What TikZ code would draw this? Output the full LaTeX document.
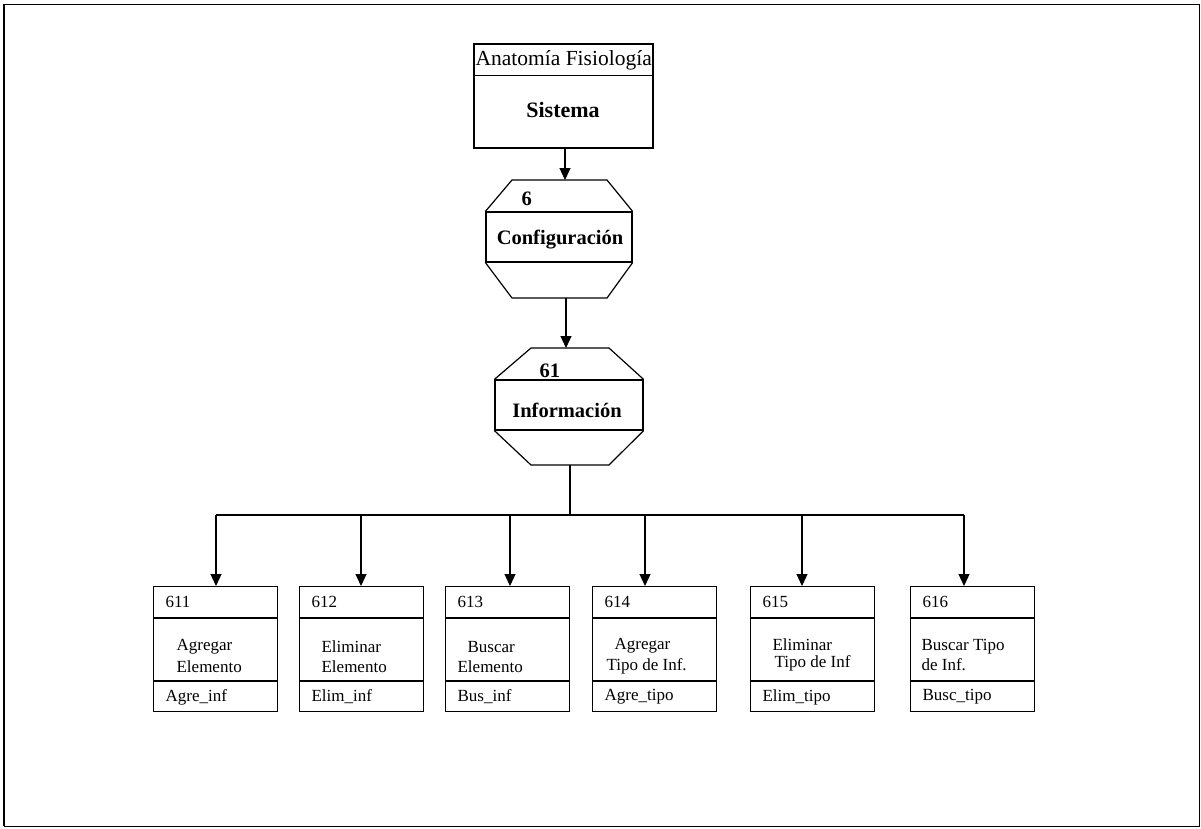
\documentclass[tikz,border=0pt]{standalone}
\usepackage{fontspec}
\setmainfont{Liberation Serif}
\usetikzlibrary{arrows.meta}
\begin{document}
\begin{tikzpicture}[x=1pt,y=-1pt,line width=1.2pt,
  conn/.style={-{Triangle[length=12pt,width=11pt]}},
  small/.style={anchor=west,inner sep=0pt,font=\fontsize{17}{17}\selectfont},
  big/.style={inner sep=0pt,font=\fontsize{20.5}{20.5}\selectfont\bfseries},
  band/.style={draw,rectangle,inner sep=0pt,minimum height=50pt},
  leaf/.style={draw,rectangle,inner sep=0pt,anchor=north west,minimum width=124pt,minimum height=125pt}]
\useasboundingbox (0,0) rectangle (1201,828);
% frame
\draw[line width=1pt] (4,4) rectangle (1199,826);
\draw[line width=2pt] (4,4) -- (4,826);

% top box
\node[draw,rectangle,inner sep=0pt,minimum width=179pt,minimum height=104pt] (sys) at (563.5,96) {};
\draw ([yshift=-32pt]sys.north west) -- ([yshift=-32pt]sys.north east);
\node[inner sep=0pt,anchor=west,font=\fontsize{21.5}{21.5}\selectfont] (sysname) at (475,60) {Anatomía Fisiología};
\node[big,font=\fontsize{22}{22}\selectfont\bfseries] (syslbl) at (563,110) {Sistema};

% octagon 6
\node[band,minimum width=146pt] (o6) at (559,237) {};
\draw (o6.north west) -- (512,180) -- (607,180) -- (o6.north east);
\draw (o6.south west) -- (512,298) -- (607,298) -- (o6.south east);
\coordinate (o6t) at (565,180);
\coordinate (o6b) at (566,298);
\node[big,anchor=west] (n6) at (521,199) {6};
\node[big] (c6) at (560,240) {Configuración};

% octagon 61
\node[band,minimum width=148pt] (o61) at (569,405) {};
\draw (o61.north west) -- (531,348) -- (609,348) -- (o61.north east);
\draw (o61.south west) -- (531,465) -- (609,465) -- (o61.south east);
\coordinate (o61t) at (566,348);
\coordinate (o61b) at (570,465);
\node[big,anchor=west] (n61) at (539,371) {61};
\node[big] (c61) at (567,410) {Información};

% connectors top
\draw[conn] (sys.south -| o6t) -- (o6t);
\draw[conn] (o6b) -- (o61t);
\coordinate (jn) at (570,515);
\draw (o61b) -- (jn);
\coordinate (busL) at (216,515);
\coordinate (busR) at (964,515);
\draw (busL) -- (busR);

% leaves
\foreach \n/\L/\ax/\oa/\ob/\ya/\yb/\la/\lb/\lc in {
  611/153/216/23/23/647/667/Agregar/Elemento/Agre\_inf,
  612/299/361/22/22/647/667/Eliminar/Elemento/Elim\_inf,
  613/445/510/22/12/647/667/Buscar/Elemento/Bus\_inf,
  614/592/645/22/14/646/666/Agregar/{Tipo de Inf.}/Agre\_tipo,
  615/750/802/22/24/645/663/Eliminar/{Tipo de Inf}/Elim\_tipo,
  616/910/964/11/11/647/665/{Buscar Tipo}/{de Inf.}/Busc\_tipo}{
  \node[leaf] (b\n) at (\L,586) {};
  \draw ([yshift=-32pt]b\n.north west) -- ([yshift=-32pt]b\n.north east);
  \draw ([yshift=-95pt]b\n.north west) -- ([yshift=-95pt]b\n.north east);
  \node[small] (id\n) at ({\L+12},602) {\n};
  \node[small] (la\n) at ({\L+\oa},\ya) {\la};
  \node[small] (lb\n) at ({\L+\ob},\yb) {\lb};
  \node[small] (lc\n) at ({\L+12},697) {\lc};
  \coordinate (t\n) at (\ax,586);
  \draw[conn] (t\n |- busL) -- (t\n);
}
\end{tikzpicture}
\end{document}
